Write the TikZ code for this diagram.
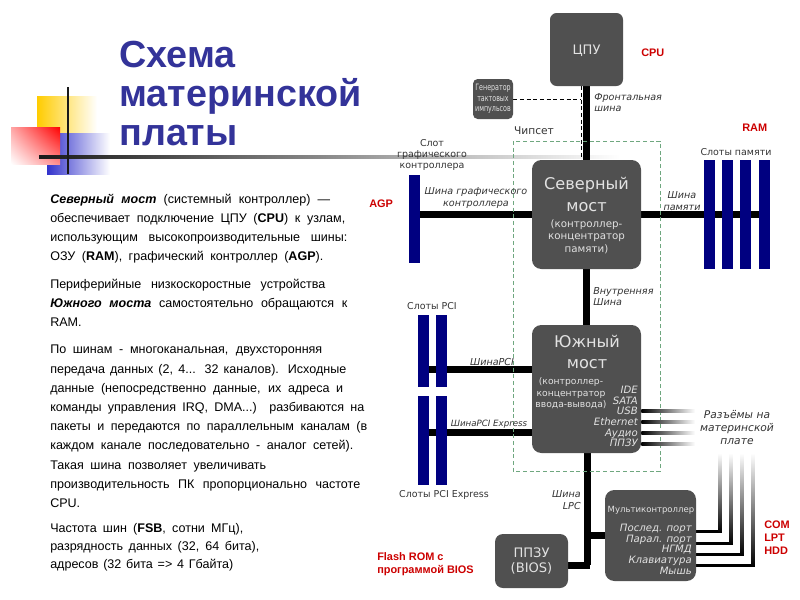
\documentclass[tikz,border=0pt]{standalone}
\usepackage{fontspec}
\setmainfont{Liberation Sans}
\newfontfamily\vera{DejaVu Sans}
\newfontfamily\veranarrow[FakeStretch=0.72]{DejaVu Sans}
\usetikzlibrary{calc,shadings,backgrounds}
\definecolor{titleblue}{HTML}{333399}
\definecolor{chipgray}{HTML}{505050}
\definecolor{chiptext}{HTML}{E2E2E2}
\definecolor{labelgray}{HTML}{333333}
\definecolor{notered}{HTML}{CC0000}
\definecolor{chipsetgreen}{HTML}{6FA77F}
\definecolor{decoyellow}{HTML}{FFCC00}
\definecolor{decoblue}{HTML}{3333CC}
\definecolor{slotblue}{HTML}{000080}
\newcommand{\bline}[2]{\makebox[#1pt][s]{#2}}
\tikzset{
    chip/.style={fill=chipgray,rounded corners=5pt,text=chiptext,align=center,inner sep=0pt},
    bus/.style={line width=5.25pt,draw=black},
    thinbus/.style={line width=2.25pt,draw=black},
    slot/.style={fill=slotblue,draw=none,inner sep=0pt,minimum width=8.25pt},
    lbl/.style={font=\vera\fontsize{7.1}{8.25}\selectfont,text=labelgray,align=center,inner sep=0pt},
    ilbl/.style={font=\vera\itshape\fontsize{7.2}{8.4}\selectfont,text=labelgray,align=center,inner sep=0pt},
    inchip/.style={font=\vera\itshape\fontsize{7.6}{8}\selectfont,text=chiptext,align=right,inner sep=0pt},
    note/.style={font=\bfseries\fontsize{8.2}{9.75}\selectfont,text=notered,align=left,inner sep=0pt,anchor=west},
    para/.style={font=\fontsize{9.4}{14.25}\selectfont,align=left,inner sep=0pt,anchor=north west}
}
\begin{document}
\begin{tikzpicture}[x=0.75pt,y=-0.75pt]
    \useasboundingbox (0,0) rectangle (800,600);
    % title
    \node[font=\bfseries\fontsize{28.3}{29.25}\selectfont,text=titleblue,align=left,inner sep=0pt,anchor=north west] (title) at (119,41)
        {Схема\\материнской\\платы};
    % text
    \node[para] (para1) at (50,194) {\bline{210}{\textbf{\textit{Северный мост}} (системный контроллер) —}\\
        \bline{221.25}{обеспечивает подключение ЦПУ (\textbf{CPU}) к узлам,}\\
        \bline{222.75}{использующим высокопроизводительные шины:}\\
        \bline{204.75}{ОЗУ (\textbf{RAM}), графический контроллер (\textbf{AGP}).}};
    \node[para] (para2) at (50,279) {\bline{206.25}{Периферийные низкоскоростные устройства}\\
        \bline{222.75}{\textbf{\textit{Южного моста}} самостоятельно обращаются к}\\
        RAM.};
    \node[para,font=\fontsize{9.4}{14.4}\selectfont] (para3) at (50,345) {\bline{204}{По шинам - многоканальная, двухсторонняя}\\
        \bline{222}{передача данных (2, 4... 32 каналов). Исходные}\\
        \bline{219.75}{данные (непосредственно данные, их адреса и}\\
        \bline{235.5}{команды управления IRQ, DMA...) разбиваются на}\\
        \bline{237.75}{пакеты и передаются по параллельным каналам (в}\\
        \bline{227.25}{каждом канале последовательно - аналог сетей).}\\
        \bline{162}{Такая шина позволяет увеличивать}\\
        \bline{232.5}{производительность ПК пропорционально частоте}\\
        CPU.};
    \node[para,font=\fontsize{9.4}{13.5}\selectfont] (para4) at (50,523) {\bline{144.75}{Частота шин (\textbf{FSB}, сотни МГц),}\\
        \bline{156.75}{разрядность данных (32, 64 бита),}\\
        \bline{137.25}{адресов (32 бита => 4 Гбайта)}};
    % chips
    \node[chip,minimum width=54.75pt,minimum height=54.75pt,text height=7.2pt,text depth=0pt,font=\vera\fontsize{9.8}{12}\selectfont] (cpu) at (586.5,49.5) {ЦПУ};
    \node[chip,minimum width=30pt,minimum height=30pt,rounded corners=3.5pt,font=\veranarrow\fontsize{6.6}{7.9}\selectfont] (clock) at (493,99) {Генератор\\тактовых\\импульсов};
    \node[chip,minimum width=81.75pt,minimum height=81.75pt,rounded corners=7pt] (north) at (586.5,214.5) {};
    \node[chip,minimum width=81.75pt,minimum height=96pt,rounded corners=7pt] (south) at (586.5,389) {};
    \node[chip,minimum width=68.25pt,minimum height=68.25pt,rounded corners=7pt] (multi) at (650.5,535.5) {};
    \node[chip,minimum width=54.75pt,minimum height=40.5pt,rounded corners=6pt,font=\vera\fontsize{9.8}{11.25}\selectfont] (bios) at (531.5,561) {ППЗУ\\(BIOS)};
    % slots
    \node[slot,minimum height=66pt] (agp) at (414.5,219) {};
    \foreach \name/\x in {mem1/709.5,mem2/727.5,mem3/745.5,mem4/764.5}
        \node[slot,minimum height=81.75pt] (\name) at (\x,214.5) {};
    \foreach \name/\x in {pci1/423,pci2/441.5}
        \node[slot,minimum height=54pt] (\name) at (\x,351) {};
    \foreach \name/\x in {pcie1/423,pcie2/441.5}
        \node[slot,minimum height=66.75pt] (\name) at (\x,440.5) {};
    \coordinate (lpc) at (587,565);
    \coordinate (pcibus west) at (423,369);
    \coordinate (pciebus west) at (423,432);
    \coordinate (sync top) at ($(cpu.south)+(-5.5,0)$);
    \coordinate (sync bottom) at ($(north.north)+(-5.5,0)$);
    \begin{scope}[on background layer]
        % corner decoration
        \shade[left color=decoyellow,middle color=decoyellow,right color=white] (37,96) rectangle (97,150);
        \shade[left color=decoblue,middle color=decoblue,right color=white] (47,133) rectangle (110,174);
        \shade[upper right=red,lower left=white,upper left=red!35!white,lower right=red!45!white] (11,127) rectangle (60,164);
        \shade[left color=black!90,right color=white] (39,155.5) rectangle (620,158.5);
        \fill[black!90] (67,87) rectangle (69,174);
        % buses
        \draw[bus] (cpu) -- (north);
        \draw[bus] (north) -- (south);
        \draw[bus] (south.south -| lpc) -- (lpc);
        \draw[bus] (lpc |- multi.west) -- (multi.west);
        \draw[bus] (bios.east |- lpc) -- ($(lpc)+(3,0)$);
        \draw[bus] (agp.east |- north.west) -- (north.west);
        \draw[bus] (north.east) -- (mem4.center);
        \draw[bus] (pcibus west) -- (south.west |- pcibus west);
        \draw[bus] (pciebus west) -- (south.west |- pciebus west);
        \draw[densely dashed,line width=0.7pt] (clock.east) -- (clock.east -| sync top);
        \draw[densely dashed,line width=0.7pt] (sync top) -- (sync bottom);
        \draw[densely dashed,draw=chipsetgreen,line width=0.5pt] (513,141) rectangle (660,471);
        % connectors that fade out
        \foreach \name/\y in {usb/411,eth/422,aud/433,rom/444}{
            \coordinate (\name) at (695,\y);
            \shade[left color=black,right color=white] ($(south.east |- \name)+(0,-1.5)$) rectangle ($(\name)+(0,1.5)$);
        }
        \foreach \name/\x/\y in {com/720/531,lpt/731/543,hdd/742/554,kbd/753/565}{
            \coordinate (\name) at (\x,\y);
            \coordinate (\name top) at (\x,453);
            \draw[thinbus] (multi.east |- \name) -- ($(\name)+(1.5,0)$);
            \shade[top color=white,bottom color=black] ($(\name top)+(-1.5,0)$) rectangle ($(\name)+(1.5,1.5)$);
        }
    \end{scope}
    % text in the chips
    \node[font=\vera\fontsize{12.1}{16.5}\selectfont,text=chiptext,align=center,inner sep=0pt] (northname) at (586.5,194) {Северный\\мост};
    \node[font=\vera\fontsize{7.7}{9.4}\selectfont,text=chiptext,align=center,inner sep=0pt] (northsub) at (586.5,236.5) {(контроллер-\\концентратор\\памяти)};
    \node[font=\vera\fontsize{12.1}{15.75}\selectfont,text=chiptext,align=center,inner sep=0pt] (southname) at (587,352) {Южный\\мост};
    \node[font=\vera\fontsize{6.9}{8.7}\selectfont,text=chiptext,align=center,inner sep=0pt] (southsub) at (571,393.5) {(контроллер-\\концентратор\\ввода-вывода)};
    \node[inchip,anchor=north east] (southports) at (638,386) {IDE\\SATA\\USB\\Ethernet\\Аудио\\ППЗУ};
    \node[font=\vera\fontsize{6.4}{8}\selectfont,text=chiptext,inner sep=0pt] (multiname) at (651,510) {Мультиконтроллер};
    \node[inchip,anchor=north east] (multiports) at (692,524) {Послед. порт\\Парал. порт\\НГМД\\Клавиатура\\Мышь};
    % bus and slot labels
    \node[ilbl,anchor=west,align=left] (fsb) at (594,102.5) {Фронтальная\\шина};
    \node[lbl,font=\vera\fontsize{8}{9}\selectfont] (chipset) at (534,131) {Чипсет};
    \node[lbl] (agplabel) at (432,155) {Слот\\графического\\контроллера};
    \node[ilbl] (agpbus) at (476,198) {Шина графического\\контроллера};
    \node[lbl] (memlabel) at (736,152) {Слоты памяти};
    \node[ilbl] (membus) at (682,201) {Шина\\памяти};
    \node[ilbl,anchor=west,align=left] (inbus) at (593,296.5) {Внутренняя\\Шина};
    \node[lbl] (pcilabel) at (432,306) {Слоты PCI};
    \node[lbl] (pcielabel) at (444,495) {Слоты PCI Express};
    \node[ilbl] (pcibus) at (492,362) {ШинаPCI};
    \node[ilbl,font=\vera\itshape\fontsize{6.5}{8}\selectfont] (pciebus) at (489,424) {ШинаPCI Express};
    \node[ilbl,anchor=east,align=right] (lpclabel) at (581,500) {Шина\\LPC};
    \node[ilbl,font=\vera\itshape\fontsize{8}{9.75}\selectfont] (connectors) at (737,428) {Разъёмы на\\материнской\\плате};
    % notes
    \node[note] (cpunote) at (641,53) {CPU};
    \node[note] (ramnote) at (742,128) {RAM};
    \node[note] (agpnote) at (369,204) {AGP};
    \node[note] (romnote) at (377,564.5) {Flash ROM с\\программой BIOS};
    \node[note] (portnote) at (764,538) {COM\\LPT\\HDD};
\end{tikzpicture}
\end{document}
